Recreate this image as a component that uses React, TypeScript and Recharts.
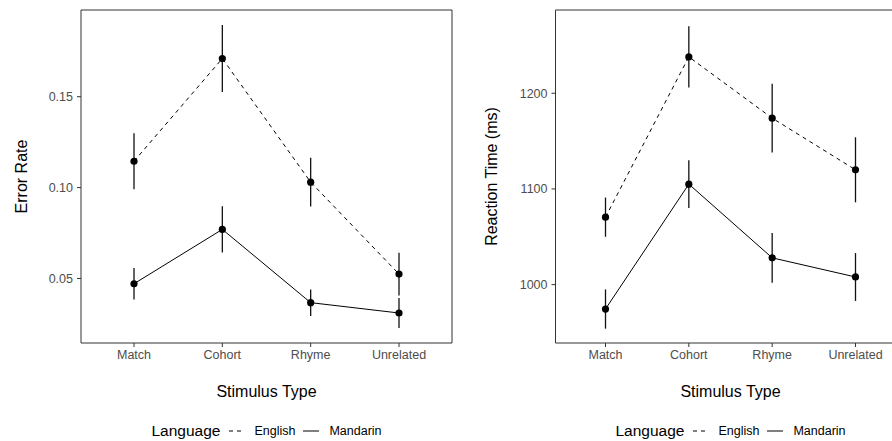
import { LineChart, Line, XAxis, YAxis, ErrorBar, ReferenceArea, Legend } from 'recharts'

const stimulusTypes = ['Match', 'Cohort', 'Rhyme', 'Unrelated']

// error rate, means and standard errors
const errorEnglish = [0.1145, 0.171, 0.103, 0.0524]
const errorEnglishSe = [0.0154, 0.0184, 0.0134, 0.0117]
const errorMandarin = [0.0471, 0.077, 0.0367, 0.031]
const errorMandarinSe = [0.0086, 0.0127, 0.0073, 0.0083]

// reaction time (ms)
const rtEnglish = [1070.5, 1238, 1174, 1120]
const rtEnglishSe = [20.5, 32, 36, 34]
const rtMandarin = [974.5, 1105, 1028, 1008]
const rtMandarinSe = [20.5, 25, 26, 25]

const errorTicks = [0.05, 0.1, 0.15]
const rtTicks = [1000, 1100, 1200]

const FONT = '"Liberation Sans", Arial, Helvetica, sans-serif'

const buildRows = (en: number[], enSe: number[], ma: number[], maSe: number[]) =>
  stimulusTypes.map((name, i) => ({
    x: i + 1,
    name,
    english: en[i],
    englishSe: enSe[i],
    mandarin: ma[i],
    mandarinSe: maSe[i],
  }))

const errorRows = buildRows(errorEnglish, errorEnglishSe, errorMandarin, errorMandarinSe)
const rtRows = buildRows(rtEnglish, rtEnglishSe, rtMandarin, rtMandarinSe)

function LegendBox() {
  return (
    <div
      style={{
        height: 20,
        display: 'flex',
        alignItems: 'center',
        justifyContent: 'center',
        fontFamily: FONT,
        color: '#000',
      }}
    >
      <span style={{ fontSize: 15.5, marginRight: 9 }}>Language</span>
      <svg width={16} height={10} style={{ marginRight: 9 }}>
        <line x1={0} y1={5} x2={16} y2={5} stroke="#000" strokeWidth={1} strokeDasharray="4 4" />
      </svg>
      <span style={{ fontSize: 12.5, marginRight: 8 }}>English</span>
      <svg width={16} height={10} style={{ marginRight: 10 }}>
        <line x1={0} y1={5} x2={16} y2={5} stroke="#000" strokeWidth={1} />
      </svg>
      <span style={{ fontSize: 12.5 }}>Mandarin</span>
    </div>
  )
}

type PanelProps = {
  rows: typeof errorRows
  domain: [number, number]
  ticks: number[]
  fmt: (v: number) => string
  yLabel: string
  left: number
  yAxisWidth: number
  yLabelX: number
  plotWidth: number
}

function Panel({ rows, domain, ticks, fmt, yLabel, left, yAxisWidth, yLabelX, plotWidth }: PanelProps) {
  const width = yAxisWidth + plotWidth + 18
  return (
    <div style={{ position: 'absolute', left, top: 0 }}>
      <LineChart width={width} height={441} data={rows} margin={{ top: 10, right: 18, left: 0, bottom: 0 }}>
        <XAxis
          type="number"
          dataKey="x"
          domain={[0.4, 4.6]}
          ticks={[1, 2, 3, 4]}
          interval={0}
          allowDataOverflow
          tickFormatter={(v: number) => stimulusTypes[v - 1]}
          height={78}
          axisLine={false}
          tickSize={4}
          tickMargin={3}
          tickLine={{ stroke: '#333' }}
          tick={{ fill: '#4D4D4D', fontSize: 12.5 }}
          label={{ value: 'Stimulus Type', position: 'insideTop', offset: 43, fill: '#000', fontSize: 16 }}
        />
        <YAxis
          type="number"
          domain={domain}
          ticks={ticks}
          allowDataOverflow
          width={yAxisWidth}
          tickFormatter={fmt}
          axisLine={false}
          tickSize={4}
          tickMargin={4}
          tickLine={{ stroke: '#333' }}
          tick={{ fill: '#4D4D4D', fontSize: 12.5 }}
          label={{
            content: (p: any) => {
              const vb = p.viewBox
              const cx = vb.x + yLabelX
              const cy = vb.y + vb.height / 2
              return (
                <text
                  x={cx}
                  y={cy}
                  transform={`rotate(-90 ${cx} ${cy})`}
                  textAnchor="middle"
                  dominantBaseline="central"
                  fontSize={16}
                  fill="#000"
                >
                  {yLabel}
                </text>
              )
            },
          }}
        />
        <ReferenceArea
          x1={0.4}
          x2={4.6}
          y1={domain[0]}
          y2={domain[1]}
          fill="none"
          stroke="#333"
          strokeWidth={1}
          ifOverflow="visible"
        />
        <Line
          type="linear"
          dataKey="english"
          stroke="#000"
          strokeWidth={1}
          strokeDasharray="4 4"
          dot={{ r: 3.6, fill: '#000', stroke: '#000', strokeWidth: 0, strokeDasharray: '' }}
          activeDot={false}
          isAnimationActive={false}
        >
          <ErrorBar dataKey="englishSe" direction="y" width={0} stroke="#111" strokeWidth={1.3} />
        </Line>
        <Line
          type="linear"
          dataKey="mandarin"
          stroke="#000"
          strokeWidth={1}
          dot={{ r: 3.6, fill: '#000', stroke: '#000', strokeWidth: 0 }}
          activeDot={false}
          isAnimationActive={false}
        >
          <ErrorBar dataKey="mandarinSe" direction="y" width={0} stroke="#111" strokeWidth={1.3} />
        </Line>
        <Legend
          verticalAlign="bottom"
          content={() => <LegendBox />}
          wrapperStyle={{ left: yAxisWidth, width: plotWidth }}
        />
      </LineChart>
    </div>
  )
}

export default function App() {
  return (
    <div
      style={{
        position: 'absolute',
        left: 0,
        top: 0,
        width: 892,
        height: 441,
        overflow: 'hidden',
        background: '#fff',
        fontFamily: FONT,
      }}
    >
      <Panel
        rows={errorRows}
        domain={[0.0145, 0.1977]}
        ticks={errorTicks}
        fmt={(v) => v.toFixed(2)}
        yLabel="Error Rate"
        left={0}
        yAxisWidth={81}
        yLabelX={21}
        plotWidth={371}
      />
      <Panel
        rows={rtRows}
        domain={[939, 1287]}
        ticks={rtTicks}
        fmt={(v) => String(v)}
        yLabel="Reaction Time (ms)"
        left={450}
        yAxisWidth={105.5}
        yLabelX={41.5}
        plotWidth={350}
      />
    </div>
  )
}
